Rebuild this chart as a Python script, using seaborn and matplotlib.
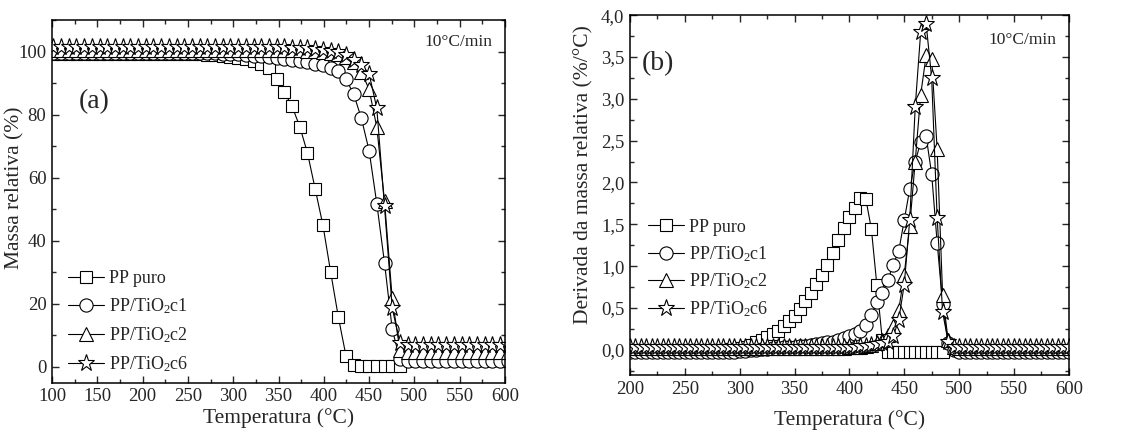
import numpy as np
import pandas as pd
import seaborn as sns
import matplotlib.pyplot as plt
from matplotlib.ticker import MultipleLocator, FuncFormatter

# TGA (a) - temperature grid and relative mass (%)
temp_a = [101.5, 110, 118.5, 127, 135.5, 144, 152.5, 161, 169.5, 178,
          186.5, 195, 203.5, 212, 220.5, 229, 237.5, 246, 254.5, 263,
          271.5, 280, 288.5, 297, 305.5, 314, 322.5, 331, 339.5, 348,
          356.5, 365, 373.5, 382, 390.5, 399, 407.5, 416, 424.5, 433,
          441.5, 450, 458.5, 467, 475.5, 484, 492.5, 501, 509.5, 518,
          526.5, 535, 543.5, 552, 560.5, 569, 577.5, 586, 594.5, 603]

mass_pp = [99.3, 99.3, 99.3, 99.3, 99.3, 99.3, 99.3, 99.3, 99.3, 99.3,
           99.3, 99.3, 99.3, 99.3, 99.3, 99.3, 99.3, 99.3, 99.2, 99.1,
           99.0, 98.8, 98.6, 98.3, 97.9, 97.5, 96.9, 96.2, 94.8, 91.2,
           87.1, 82.6, 76.2, 67.8, 56.4, 45.0, 30.2, 15.9, 3.5, 0.6,
           0.4, 0.4, 0.4, 0.4, 0.4, 0.4]

mass_c1 = [99.6, 99.6, 99.6, 99.6, 99.6, 99.6, 99.6, 99.6, 99.6, 99.6,
           99.6, 99.6, 99.6, 99.6, 99.6, 99.6, 99.6, 99.6, 99.5, 99.5,
           99.4, 99.4, 99.3, 99.2, 99.1, 98.9, 98.7, 98.5, 98.3, 98.0,
           97.7, 97.4, 97.1, 96.7, 96.2, 95.6, 94.9, 93.7, 91.2, 86.5,
           78.8, 68.6, 51.8, 33.0, 12.0, 2.4, 2.0, 2.0, 2.0, 2.0,
           2.0, 2.0, 2.0, 2.0, 2.0, 2.0, 2.0, 2.0, 2.0, 2.0]

mass_c2 = [100.6, 100.6, 100.6, 100.6, 100.6, 100.6, 100.6, 100.6, 100.6, 100.6,
           100.6, 100.6, 100.6, 100.6, 100.6, 100.6, 100.6, 100.6, 100.6, 100.6,
           100.6, 100.6, 100.6, 100.6, 100.6, 100.6, 100.6, 100.6, 100.6, 100.6,
           100.6, 100.5, 100.4, 100.3, 100.1, 99.9, 99.6, 99.1, 98.3, 96.6,
           93.6, 88.0, 76.0, 52.6, 21.8, 5.3, 4.8, 4.8, 4.8, 4.8,
           4.8, 4.8, 4.8, 4.8, 4.8, 4.8, 4.8, 4.8, 4.8, 4.8]

mass_c6 = [101.3, 101.3, 101.3, 101.3, 101.3, 101.3, 101.3, 101.3, 101.3, 101.3,
           101.3, 101.3, 101.3, 101.3, 101.3, 101.3, 101.3, 101.3, 101.3, 101.3,
           101.3, 101.3, 101.3, 101.3, 101.3, 101.3, 101.3, 101.3, 101.3, 101.3,
           101.3, 101.2, 101.1, 101.0, 100.8, 100.6, 100.3, 99.8, 99.0, 97.4,
           95.8, 93.0, 82.0, 50.9, 18.7, 7.6, 7.0, 7.0, 7.0, 7.0,
           7.0, 7.0, 7.0, 7.0, 7.0, 7.0, 7.0, 7.0, 7.0, 7.0]

# DTG (b) - temperature grid and derivative (%/°C)
temp_b = [200, 205, 210, 215, 220, 225, 230, 235, 240, 245,
          250, 255, 260, 265, 270, 275, 280, 285, 290, 295,
          300, 305, 310, 315, 320, 325, 330, 335, 340, 345,
          350, 355, 360, 365, 370, 375, 380, 385, 390, 395,
          400, 405, 410, 415, 420, 425, 430, 435, 440, 445,
          450, 455, 460, 465, 470, 475, 480, 485, 490, 495,
          500, 505, 510, 515, 520, 525, 530, 535, 540, 545,
          550, 555, 560, 565, 570, 575, 580, 585, 590, 595, 600]

dtg_pp = [0.0, 0.0, 0.0, 0.0, 0.0, 0.0, 0.0, 0.0, 0.0, 0.0,
          0.0, 0.0, 0.0, 0.0, 0.0, 0.0, 0.0, 0.0, 0.01, 0.01,
          0.02, 0.04, 0.06, 0.09, 0.12, 0.15, 0.19, 0.23, 0.28, 0.34,
          0.41, 0.49, 0.58, 0.68, 0.79, 0.90, 1.02, 1.16, 1.31, 1.46,
          1.59, 1.70, 1.81, 1.80, 1.45, 0.78, 0.12, -0.03, -0.03, -0.03,
          -0.03, -0.03, -0.03, -0.03, -0.03, -0.03, -0.03, -0.03]

dtg_c1 = [-0.02, -0.02, -0.02, -0.02, -0.02, -0.02, -0.02, -0.02, -0.02, -0.02,
          -0.02, -0.02, -0.02, -0.02, -0.02, -0.02, -0.02, -0.02, -0.02, -0.02,
          -0.01, -0.01, 0.0, 0.0, 0.01, 0.01, 0.02, 0.02, 0.03, 0.03,
          0.04, 0.05, 0.05, 0.06, 0.07, 0.08, 0.09, 0.10, 0.12, 0.14,
          0.16, 0.19, 0.23, 0.30, 0.42, 0.57, 0.68, 0.83, 1.02, 1.18,
          1.55, 1.92, 2.25, 2.48, 2.55, 2.10, 1.28, 0.55, 0.08, 0.0,
          -0.02, -0.02, -0.02, -0.02, -0.02, -0.02, -0.02, -0.02, -0.02, -0.02,
          -0.02, -0.02, -0.02, -0.02, -0.02, -0.02, -0.02, -0.02, -0.02, -0.02, -0.02]

dtg_c2 = [0.02, 0.02, 0.02, 0.02, 0.02, 0.02, 0.02, 0.02, 0.02, 0.02,
          0.02, 0.02, 0.02, 0.02, 0.02, 0.02, 0.02, 0.02, 0.02, 0.02,
          0.02, 0.02, 0.02, 0.02, 0.02, 0.02, 0.02, 0.02, 0.02, 0.02,
          0.02, 0.02, 0.02, 0.02, 0.02, 0.02, 0.02, 0.02, 0.02, 0.02,
          0.03, 0.03, 0.04, 0.05, 0.06, 0.08, 0.12, 0.18, 0.28, 0.48,
          0.90, 1.48, 2.25, 3.05, 3.52, 3.48, 2.40, 0.65, 0.12, 0.04,
          0.02, 0.02, 0.02, 0.02, 0.02, 0.02, 0.02, 0.02, 0.02, 0.02,
          0.02, 0.02, 0.02, 0.02, 0.02, 0.02, 0.02, 0.02, 0.02, 0.02, 0.02]

dtg_c6 = [0.03, 0.03, 0.03, 0.03, 0.03, 0.03, 0.03, 0.03, 0.03, 0.03,
          0.03, 0.03, 0.03, 0.03, 0.03, 0.03, 0.03, 0.03, 0.03, 0.03,
          0.03, 0.03, 0.03, 0.03, 0.03, 0.03, 0.03, 0.03, 0.03, 0.03,
          0.03, 0.03, 0.03, 0.03, 0.03, 0.03, 0.03, 0.03, 0.03, 0.03,
          0.04, 0.04, 0.05, 0.05, 0.06, 0.07, 0.08, 0.09, 0.16, 0.36,
          0.78, 1.55, 2.90, 3.80, 3.89, 3.25, 1.58, 0.45, 0.10, 0.04,
          0.03, 0.03, 0.03, 0.03, 0.03, 0.03, 0.03, 0.03, 0.03, 0.03,
          0.03, 0.03, 0.03, 0.03, 0.03, 0.03, 0.03, 0.03, 0.03, 0.03, 0.03]

labels = ['PP puro', r'PP/TiO$_{2}$c1', r'PP/TiO$_{2}$c2', r'PP/TiO$_{2}$c6']
markers = ['s', 'o', '^', '*']
msizes = [9, 9.5, 10.5, 12.5]

sns.set_style('ticks')
plt.rcParams['font.family'] = ['Liberation Serif', 'DejaVu Serif']
plt.rcParams['mathtext.fontset'] = 'custom'
plt.rcParams['mathtext.rm'] = 'Liberation Serif'
plt.rcParams['mathtext.it'] = 'Liberation Serif:italic'
plt.rcParams['mathtext.default'] = 'rm'

fig = plt.figure(figsize=(11.31, 4.32), dpi=100)
ax1 = fig.add_axes([0.046, 0.114, 0.4005, 0.8397])
ax2 = fig.add_axes([0.557, 0.132, 0.388, 0.833])


def draw(ax, xs, ys_list):
    for ys, lab, mk, ms in zip(ys_list, labels, markers, msizes):
        sns.lineplot(x=xs[:len(ys)], y=ys, ax=ax, color='black', lw=0.8,
                     marker=mk, markersize=ms, mfc='white', mec='black',
                     mew=0.8, label=lab, sort=False)


def style(ax):
    ax.tick_params(which='both', direction='in', top=True, right=True,
                   labelsize=13.5, width=1, pad=4)
    ax.tick_params(which='major', length=5)
    ax.tick_params(which='minor', length=3)
    for s in ax.spines.values():
        s.set_linewidth(1.1)
        s.set_color('black')


# (a) mass loss
draw(ax1, temp_a, [mass_pp, mass_c1, mass_c2, mass_c6])
ax1.set_xlim(100, 600)
ax1.set_ylim(-5, 110)
ax1.xaxis.set_major_locator(MultipleLocator(50))
ax1.xaxis.set_minor_locator(MultipleLocator(25))
ax1.yaxis.set_minor_locator(MultipleLocator(10))
ax1.set_yticks([0, 20, 40, 60, 80, 100])
ax1.set_xlabel('Temperatura (°C)', fontsize=15.5, labelpad=2)
ax1.set_ylabel('Massa relativa (%)', fontsize=15.5)
ax1.yaxis.set_label_coords(-0.06, 0.537)
style(ax1)
ax1.text(0.973, 0.94, '10°C/min', transform=ax1.transAxes, ha='right',
         va='center', fontsize=12.5)
ax1.text(0.06, 0.775, '(a)', transform=ax1.transAxes, ha='left',
         va='center', fontsize=20)
ax1.legend(loc='lower left', bbox_to_anchor=(0.035, 0.025), frameon=False,
           fontsize=13, handlelength=2.0, handletextpad=0.25,
           labelspacing=0.5, borderpad=0, borderaxespad=0)

# (b) derivative
draw(ax2, temp_b, [dtg_pp, dtg_c1, dtg_c2, dtg_c6])
ax2.set_xlim(200, 600)
ax2.set_ylim(-0.3, 4.0)
ax2.xaxis.set_major_locator(MultipleLocator(50))
ax2.xaxis.set_minor_locator(MultipleLocator(25))
ax2.yaxis.set_major_locator(MultipleLocator(0.5))
ax2.yaxis.set_minor_locator(MultipleLocator(0.25))
ax2.yaxis.set_major_formatter(FuncFormatter(lambda v, p: f'{v:.1f}'.replace('.', ',')))
ax2.set_xlabel('Temperatura (°C)', fontsize=15.5)
ax2.xaxis.set_label_coords(0.5, -0.097)
ax2.set_ylabel('Derivada da massa relativa (%/°C)', fontsize=15.5)
ax2.yaxis.set_label_coords(-0.084, 0.556)
style(ax2)
ax2.text(0.973, 0.931, '10°C/min', transform=ax2.transAxes, ha='right',
         va='center', fontsize=12.5)
ax2.text(0.027, 0.866, '(b)', transform=ax2.transAxes, ha='left',
         va='center', fontsize=20)
ax2.legend(loc='lower left', bbox_to_anchor=(0.041, 0.155), frameon=False,
           fontsize=13, handlelength=2.0, handletextpad=0.25,
           labelspacing=0.45, borderpad=0, borderaxespad=0)

fig.savefig('out.png', dpi=100)
